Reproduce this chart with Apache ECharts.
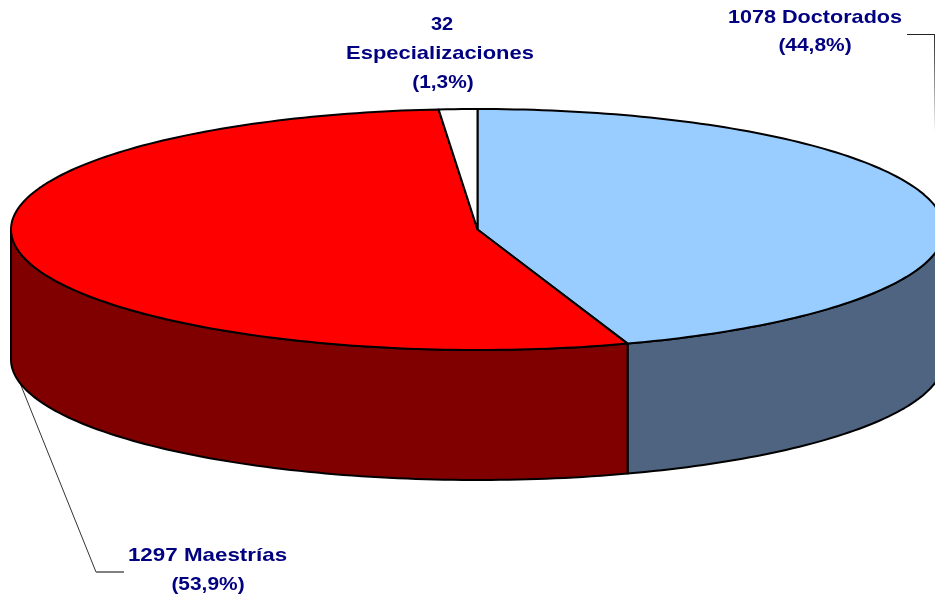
<!DOCTYPE html>
<html>
<head>
<meta charset="utf-8">
<title>Posgrados</title>
<style>
  html, body { margin: 0; padding: 0; background: #fff; }
  #chart { width: 935px; height: 599px; }
</style>
<script src="https://cdn.jsdelivr.net/npm/echarts@6/dist/echarts.min.js"></script>
</head>
<body>
<div id="chart"></div>
<script>
// datos
var categories = ['Doctorados', 'Maestrías', 'Especializaciones'];
var values = [1078, 1297, 32];
var percents = ['44,8%', '53,9%', '1,3%'];
var topColors = ['#99CCFF', '#FF0000', '#FFFFFF'];
var sideColors = ['#4F6480', '#800000', '#808080'];

// geometria del disco
var cx = 477.5, cy = 229.5, rx = 466.5, ry = 120.5, depth = 130;
var total = values.reduce(function(a, b) { return a + b; }, 0);

function sliceAngles(idx) {
  var sum = 0;
  for (var i = 0; i < idx; i++) sum += values[i];
  return [sum / total * 2 * Math.PI, (sum + values[idx]) / total * 2 * Math.PI];
}

function rimPoint(a, dy) {
  return [cx + rx * Math.sin(a), cy - ry * Math.cos(a) + (dy || 0)];
}

function rimPoints(a0, a1, dy) {
  var pts = [];
  var n = Math.max(2, Math.ceil((a1 - a0) / 0.02));
  for (var i = 0; i <= n; i++) pts.push(rimPoint(a0 + (a1 - a0) * i / n, dy));
  return pts;
}

var lineStyle = { stroke: '#000', lineWidth: 2, lineJoin: 'round' };

function renderSide(params, api) {
  var ang = sliceAngles(params.dataIndex);
  // solo la parte frontal del disco es visible
  var a0 = Math.max(ang[0], Math.PI / 2);
  var a1 = Math.min(ang[1], Math.PI * 1.5);
  if (a1 <= a0) return null;
  var pts = rimPoints(a0, a1, 0).concat(rimPoints(a0, a1, depth).reverse());
  return {
    type: 'polygon',
    shape: { points: pts },
    style: Object.assign({ fill: sideColors[params.dataIndex] }, lineStyle)
  };
}

function renderTop(params, api) {
  var ang = sliceAngles(params.dataIndex);
  var pts = [[cx, cy]].concat(rimPoints(ang[0], ang[1], 0));
  return {
    type: 'polygon',
    shape: { points: pts },
    style: Object.assign({ fill: topColors[params.dataIndex] }, lineStyle)
  };
}

// el texto del original esta algo estirado a lo ancho
function labelText(x, y, text, stretch) {
  return {
    type: 'text',
    x: x,
    y: y,
    scaleX: stretch,
    silent: true,
    style: {
      text: text,
      fill: '#000080',
      font: 'bold 19px "Liberation Sans", Arial, sans-serif',
      textAlign: 'center',
      textVerticalAlign: 'middle'
    }
  };
}

var myChart = echarts.init(document.getElementById('chart'), null, { renderer: 'canvas' });

myChart.setOption({
  animation: false,
  backgroundColor: '#fff',
  tooltip: { show: false },
  series: [
    { type: 'custom', coordinateSystem: 'none', silent: true, z: 1, data: values, renderItem: renderSide },
    { type: 'custom', coordinateSystem: 'none', silent: true, z: 2, data: values, renderItem: renderTop }
  ],
  graphic: [
    labelText(815, 18, values[0] + ' ' + categories[0], 1.137),
    labelText(815, 46, '(' + percents[0] + ')', 1.1),
    labelText(207.5, 556, values[1] + ' ' + categories[1], 1.177),
    labelText(208, 585, '(' + percents[1] + ')', 1.1),
    labelText(442, 25, String(values[2]), 1.05),
    labelText(440, 54, categories[2], 1.155),
    labelText(443, 83, '(' + percents[2] + ')', 1.1),
    // lineas guia
    { type: 'polyline', silent: true, shape: { points: [[907, 34.5], [934.5, 34.5]] }, style: { stroke: '#222', lineWidth: 1, fill: null } },
    { type: 'line', silent: true, shape: { x1: 934.5, y1: 34, x2: 934.5, y2: 130 },
      style: { lineWidth: 1, stroke: new echarts.graphic.LinearGradient(0, 0, 0, 1, [
        { offset: 0, color: '#222' }, { offset: 1, color: '#fff' }
      ]) } },
    { type: 'line', silent: true, shape: { x1: 20, y1: 383, x2: 96, y2: 572 }, style: { stroke: '#333', lineWidth: 1 } },
    { type: 'line', silent: true, shape: { x1: 96, y1: 572, x2: 124, y2: 572 }, style: { stroke: '#808080', lineWidth: 2 } }
  ]
});
</script>
</body>
</html>
